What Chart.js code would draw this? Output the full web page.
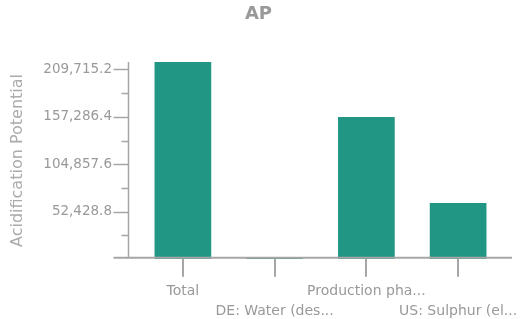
<!DOCTYPE html>
<html>
<head>
<meta charset="utf-8">
<script src="https://cdn.jsdelivr.net/npm/chart.js@4/dist/chart.umd.min.js"></script>
<style>
  html, body { margin: 0; padding: 0; background: #fff; }
  #wrap { width: 525px; height: 319px; }
</style>
</head>
<body>
<div id="wrap"><canvas id="chart" width="525" height="319"></canvas></div>
<script>
// chart data
const categories = ['Total', 'DE: Water (des...', 'Production pha...', 'US: Sulphur (el...'];
const apValues = [218000, 1000, 157100, 61900];
const yMax = 218000;
const yTicks = [52428.8, 104857.6, 157286.4, 209715.2];
const yMinorTicks = [26214.4, 78643.2, 131072, 183500.8];

const barColor = '#229684';
const axisColor = '#a6a6a6';
const textColor = '#999999';
const fontFamily = '"DejaVu Sans", Verdana, sans-serif';

// axis lines and tick marks, drawn on top of the bars
const axisPlugin = {
    id: 'axisLines',
    afterDatasetsDraw(chart) {
        const ctx = chart.ctx;
        const x = chart.scales.x;
        const y = chart.scales.y;
        const area = chart.chartArea;
        const axisX = area.left - 8.5;
        const zero = y.getPixelForValue(0) - 1.3;

        ctx.save();
        ctx.strokeStyle = axisColor;

        // y axis
        ctx.lineWidth = 1.5;
        ctx.beginPath();
        ctx.moveTo(axisX, area.top);
        ctx.lineTo(axisX, zero);
        ctx.stroke();

        yTicks.forEach(v => {
            const py = Math.round(y.getPixelForValue(v)) + 0.5;
            ctx.beginPath();
            ctx.moveTo(axisX - 15, py);
            ctx.lineTo(axisX, py);
            ctx.stroke();
        });
        yMinorTicks.forEach(v => {
            const py = Math.round(y.getPixelForValue(v)) + 0.5;
            ctx.beginPath();
            ctx.moveTo(axisX - 7, py);
            ctx.lineTo(axisX, py);
            ctx.stroke();
        });

        // x axis
        ctx.lineWidth = 2;
        ctx.beginPath();
        ctx.moveTo(axisX - 15, zero);
        ctx.lineTo(area.right + 8, zero);
        ctx.stroke();

        categories.forEach((c, i) => {
            const px = Math.round(x.getPixelForValue(i));
            ctx.beginPath();
            ctx.moveTo(px, zero + 1);
            ctx.lineTo(px, zero + 19);
            ctx.stroke();
        });
        ctx.restore();
    }
};

new Chart(document.getElementById('chart'), {
    type: 'bar',
    data: {
        labels: categories,
        datasets: [{
            label: 'AP',
            data: apValues,
            backgroundColor: barColor,
            borderWidth: 0,
            barPercentage: 0.618,
            categoryPercentage: 1
        }]
    },
    options: {
        responsive: false,
        animation: false,
        layout: { padding: { left: 13, right: 21, top: 0, bottom: 0 } },
        plugins: {
            legend: { display: false },
            tooltip: { enabled: false },
            title: {
                display: true,
                text: 'AP',
                color: textColor,
                font: { family: fontFamily, size: 18, weight: 'bold', lineHeight: 1.2 },
                padding: { top: 4, bottom: 36.4 }
            }
        },
        scales: {
            x: {
                grid: { display: false, drawTicks: false },
                border: { display: false },
                ticks: {
                    autoSkip: false,
                    maxRotation: 0,
                    minRotation: 0,
                    padding: 22,
                    color: textColor,
                    font: { family: fontFamily, size: 14, lineHeight: '20px' },
                    callback: function(value, index) {
                        const label = categories[index];
                        return index % 2 === 1 ? ['', label] : label;
                    }
                },
                afterFit: function(scale) {
                    scale.height = 60;
                    // labels may hang over the right edge, like the original
                    scale.paddingLeft = 0;
                    scale.paddingRight = 0;
                }
            },
            y: {
                min: 0,
                max: yMax,
                grid: { display: false, drawTicks: false },
                border: { display: false },
                afterBuildTicks: function(scale) {
                    scale.ticks = yTicks.map(v => ({ value: v }));
                },
                ticks: {
                    padding: 25,
                    color: textColor,
                    font: { family: fontFamily, size: 13.5 },
                    callback: function(value) {
                        return value.toLocaleString('en-US', { minimumFractionDigits: 1, maximumFractionDigits: 1 });
                    }
                },
                title: {
                    display: true,
                    text: 'Acidification Potential',
                    color: '#ababab',
                    font: { family: fontFamily, size: 16, lineHeight: 1.2 },
                    padding: { top: -4.6, bottom: 0 }
                },
                afterFit: function(scale) {
                    scale.width = 124;
                }
            }
        }
    },
    plugins: [axisPlugin]
});
</script>
</body>
</html>
